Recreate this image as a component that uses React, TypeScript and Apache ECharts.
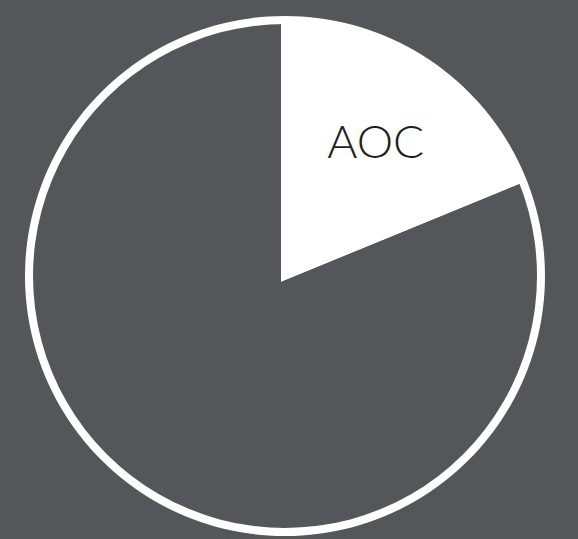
import React, { useEffect, useRef } from "react";
import * as echarts from "echarts";

const categories = ["AOC", "Other"];
const values = [18.8, 81.2];
const BG = "#55565a";

export default function App() {
  const ref = useRef<HTMLDivElement>(null);
  useEffect(() => {
    document.body.style.margin = "0";
    const chart = echarts.init(ref.current!, null, { renderer: "svg" });
    const data = categories.map((name, i) => ({
      name,
      value: values[i],
      itemStyle: { color: i === 0 ? "#ffffff" : BG },
    }));
    chart.setOption({
      animation: false,
      backgroundColor: BG,
      series: [
        {
          type: "pie",
          center: [281, 282],
          radius: [0, 262],
          startAngle: 90,
          clockwise: true,
          silent: true,
          label: { show: false },
          labelLine: { show: false },
          data,
        },
        {
          type: "pie",
          center: [285, 276],
          radius: [252, 260],
          silent: true,
          label: { show: false },
          labelLine: { show: false },
          data: [{ name: "ring", value: 1, itemStyle: { color: "#ffffff" } }],
        },
        {
          type: "pie",
          center: [281, 282],
          radius: [74, 260],
          startAngle: 90,
          clockwise: true,
          silent: true,
          itemStyle: { color: "rgba(0,0,0,0)", borderWidth: 0 },
          label: {
            show: true,
            position: "inside",
            formatter: (p: any) => (p.dataIndex === 0 ? p.name : ""),
            color: "#231f20",
            fontFamily: "Lato",
            fontWeight: 300,
            fontSize: 46,
          },
          labelLine: { show: false },
          data: categories.map((name, i) => ({ name, value: values[i] })),
        },
      ],
    });
    return () => chart.dispose();
  }, []);
  return <div ref={ref} style={{ width: 578, height: 539 }} />;
}
